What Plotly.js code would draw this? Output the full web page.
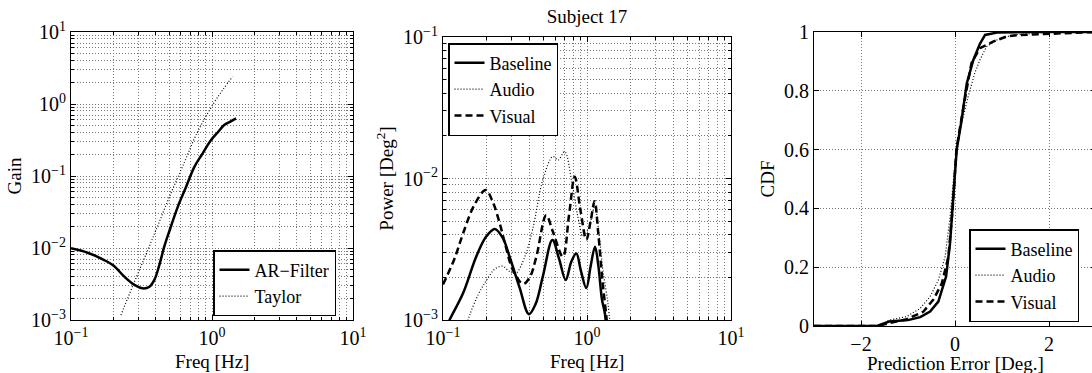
<!DOCTYPE html>
<html>
<head>
<meta charset="utf-8">
<script src="https://cdn.plot.ly/plotly-3.0.1.min.js"></script>
<style>
html,body{margin:0;padding:0;overflow:hidden;background:#fff;}
#chart{width:1100px;height:373px;}
</style>
</head>
<body>
<div id="chart"></div>
<script>
// ---- Panel 1: Gain vs frequency ----
const arFreq = [0.1, 0.131, 0.172, 0.2, 0.239, 0.28, 0.322, 0.36, 0.39, 0.42, 0.459, 0.5, 0.571, 0.65, 0.75, 0.85, 0.985, 1.1, 1.22, 1.35, 1.48];
const arGain = [0.0099, 0.0086, 0.0068, 0.0057, 0.0040, 0.0031, 0.00275, 0.0029, 0.0036, 0.0055, 0.0105, 0.0175, 0.037, 0.068, 0.134, 0.2, 0.316, 0.405, 0.51, 0.57, 0.63];
const taylorFreq = [0.226, 0.28, 0.35, 0.42, 0.51, 0.62, 0.79, 1.03, 1.2, 1.40];
const taylorGain = [0.00117, 0.0033, 0.0093, 0.0223, 0.057, 0.137, 0.41, 1.03, 1.6, 2.4];

// ---- Panel 2: Power spectra, Subject 17 ----
const baseFreq = [0.105, 0.111, 0.138, 0.17, 0.2, 0.229, 0.26, 0.29, 0.34, 0.395, 0.44, 0.494, 0.575, 0.64, 0.711, 0.78, 0.843, 0.91, 0.989, 1.06, 1.137, 1.2, 1.27, 1.33, 1.37];
const basePower = [0.00088, 0.001, 0.00155, 0.0028, 0.0039, 0.0044, 0.0038, 0.0028, 0.0017, 0.0011, 0.0013, 0.00204, 0.00367, 0.0027, 0.00192, 0.0026, 0.00295, 0.0022, 0.00168, 0.0024, 0.0033, 0.0024, 0.0014, 0.00112, 0.0008];
const audioFreq = [0.145, 0.153, 0.175, 0.2, 0.23, 0.26, 0.29, 0.32, 0.37, 0.42, 0.494, 0.58, 0.63, 0.70, 0.78, 0.86, 0.94, 1.03, 1.13, 1.22, 1.29, 1.40, 1.45];
const audioPower = [0.0009, 0.00108, 0.0015, 0.0019, 0.0023, 0.0024, 0.0022, 0.00214, 0.0028, 0.0044, 0.0098, 0.0143, 0.0135, 0.0155, 0.0098, 0.0055, 0.0039, 0.0045, 0.0063, 0.0038, 0.00225, 0.0013, 0.0009];
const visualFreq = [0.1, 0.12, 0.138, 0.165, 0.198, 0.222, 0.248, 0.275, 0.306, 0.36, 0.40, 0.445, 0.521, 0.58, 0.68, 0.75, 0.822, 0.9, 0.99, 1.06, 1.13, 1.2, 1.28, 1.36, 1.4];
const visualPower = [0.00178, 0.0027, 0.0041, 0.0065, 0.0083, 0.0068, 0.0048, 0.0032, 0.00225, 0.0018, 0.002, 0.0028, 0.0055, 0.0042, 0.0028, 0.0055, 0.0103, 0.006, 0.0037, 0.005, 0.0069, 0.004, 0.0019, 0.00108, 0.0008];

// ---- Panel 3: CDF of prediction error ----
const baseErr = [-3, -1.66, -1.4, -1.0, -0.74, -0.53, -0.355, -0.19, -0.106, -0.036, 0.036, 0.14, 0.25, 0.39, 0.53, 0.64, 0.89, 1.5, 3];
const baseCdf = [0, 0, 0.015, 0.02, 0.03, 0.049, 0.083, 0.168, 0.281, 0.44, 0.60, 0.70, 0.825, 0.905, 0.96, 0.99, 0.998, 1.0, 1.0];
const audioErr = [-3, -1.6, -1.4, -1.03, -0.74, -0.53, -0.355, -0.21, -0.106, 0, 0.106, 0.28, 0.42, 0.53, 0.67, 0.89, 1.23, 2.0, 3];
const audioCdf = [0, 0, 0.02, 0.032, 0.06, 0.1, 0.156, 0.236, 0.37, 0.553, 0.667, 0.78, 0.86, 0.905, 0.95, 0.973, 0.99, 1.0, 1.0];
const visualErr = [-3, -1.66, -1.03, -0.67, -0.46, -0.28, -0.14, -0.05, 0.03, 0.18, 0.35, 0.53, 0.81, 1.1, 1.38, 2.5, 3];
const visualCdf = [0, 0, 0.023, 0.049, 0.09, 0.145, 0.236, 0.4, 0.6, 0.746, 0.894, 0.945, 0.967, 0.985, 0.99, 0.997, 1.0];

// ---- tick labels ----
const logTickVals1 = [0.1, 1, 10];
const logTickText1 = ['10<sup>−1</sup>', '10<sup>0</sup>', '10<sup>1</sup>'];
const gainTickVals = [0.001, 0.01, 0.1, 1, 10];
const gainTickText = ['10<sup>−3</sup>', '10<sup>−2</sup>', '10<sup>−1</sup>', '10<sup>0</sup>', '10<sup>1</sup>'];
const powTickVals = [0.001, 0.01, 0.1];
const powTickText = ['10<sup>−3</sup>', '10<sup>−2</sup>', '10<sup>−1</sup>'];
const errTickVals = [-2, 0, 2];
const errTickText = ['−2', '0', '2'];
const cdfTickVals = [0, 0.2, 0.4, 0.6, 0.8, 1];
const cdfTickText = ['0', '0.2', '0.4', '0.6', '0.8', '1'];

const W = 1100, H = 373;
const FONT = "'Liberation Serif', 'Times New Roman', serif";
const TICK = 20, TIT = 19, LEG = 18;
function dx(a, b) { return [a / W, b / W]; }
function dy(t, b) { return [1 - b / H, 1 - t / H]; }
function minorLog(e0, e1) {
  const v = [];
  for (let e = e0; e < e1; e++) for (let k = 2; k <= 9; k++) v.push(k * Math.pow(10, e));
  return v;
}
const GRID = 'rgb(120,120,120)';
const GDASH = '1px,2px';
function ttl(text, standoff) {
  const t = {text: text, font: {family: FONT, size: TIT, color: '#000'}};
  if (standoff !== undefined) t.standoff = standoff;
  return t;
}

function baseAxis(domain, range, tv, tt, anchor, title) {
  return {
    domain: domain, range: range, anchor: anchor,
    tickmode: 'array', tickvals: tv, ticktext: tt,
    ticks: 'inside', ticklen: 5, tickcolor: '#000', tickwidth: 1,
    showline: true, linecolor: '#000', linewidth: 1, mirror: 'ticks',
    showgrid: true, gridcolor: GRID, griddash: GDASH, gridwidth: 1,
    zeroline: false, automargin: false,
    tickfont: {family: FONT, size: TICK, color: '#000'},
    title: title
  };
}
function logAxis(domain, range, tv, tt, minorVals, anchor, title) {
  const a = baseAxis(domain, range, tv, tt, anchor, title);
  a.type = 'log';
  a.minor = {tickmode: 'array', tickvals: minorVals, ticks: 'inside', ticklen: 3, tickcolor: '#000',
             showgrid: true, gridcolor: GRID, griddash: GDASH, gridwidth: 1};
  return a;
}
function linAxis(domain, range, tv, tt, anchor, title) {
  const a = baseAxis(domain, range, tv, tt, anchor, title);
  a.type = 'linear';
  return a;
}

const solid = {color: '#000', width: 2.5};
const dotted = {color: '#000', width: 1.2, dash: '1px,2px'};
const dashed = {color: '#000', width: 2.5, dash: '7px,4px'};

const traces = [
  {x: arFreq, y: arGain, name: 'AR−Filter', mode: 'lines', line: Object.assign({shape: 'spline'}, solid), xaxis: 'x', yaxis: 'y', legend: 'legend'},
  {x: taylorFreq, y: taylorGain, name: 'Taylor', mode: 'lines', line: Object.assign({shape: 'spline'}, dotted), xaxis: 'x', yaxis: 'y', legend: 'legend'},
  {x: baseFreq, y: basePower, name: 'Baseline', mode: 'lines', line: Object.assign({shape: 'spline'}, solid), xaxis: 'x2', yaxis: 'y2', legend: 'legend2'},
  {x: audioFreq, y: audioPower, name: 'Audio', mode: 'lines', line: Object.assign({shape: 'spline'}, dotted), xaxis: 'x2', yaxis: 'y2', legend: 'legend2'},
  {x: visualFreq, y: visualPower, name: 'Visual', mode: 'lines', line: Object.assign({shape: 'spline'}, dashed), xaxis: 'x2', yaxis: 'y2', legend: 'legend2'},
  {x: baseErr, y: baseCdf, name: 'Baseline', mode: 'lines', line: solid, xaxis: 'x3', yaxis: 'y3', legend: 'legend3'},
  {x: audioErr, y: audioCdf, name: 'Audio', mode: 'lines', line: dotted, xaxis: 'x3', yaxis: 'y3', legend: 'legend3'},
  {x: visualErr, y: visualCdf, name: 'Visual', mode: 'lines', line: dashed, xaxis: 'x3', yaxis: 'y3', legend: 'legend3'}
];

function legendBox(x, y, yanchor) {
  return {x: x / W, y: 1 - y / H, xanchor: 'left', yanchor: yanchor, xref: 'paper', yref: 'paper',
    bgcolor: '#fff', bordercolor: '#000', borderwidth: 1.5,
    font: {family: FONT, size: LEG, color: '#000'}, tracegroupgap: 0, itemwidth: 30,
    traceorder: 'normal'};
}
// x-axis titles placed as centred text under each panel
function xTitle(text, xdom, ypx) {
  return {text: text, xref: 'paper', yref: 'paper', x: (xdom[0] + xdom[1]) / 2, y: 1 - ypx / H,
          xanchor: 'center', yanchor: 'middle', showarrow: false,
          font: {family: FONT, size: TIT, color: '#000'}};
}

const xd1 = dx(71, 353), xd2 = dx(443, 731), xd3 = dx(814, 1096);
const layout = {
  width: W, height: H,
  margin: {l: 0, r: 0, t: 0, b: 0},
  paper_bgcolor: '#fff', plot_bgcolor: '#fff',
  font: {family: FONT, size: TIT, color: '#000'},
  title: {text: 'Subject 17', x: 587 / W, y: 1 - 16 / H, xanchor: 'center', yanchor: 'middle', xref: 'paper', yref: 'paper',
          font: {family: FONT, size: TIT, color: '#000'}},
  xaxis: logAxis(xd1, [-1, 1], logTickVals1, logTickText1, minorLog(-1, 1), 'y', ttl('')),
  yaxis: logAxis(dy(32, 320), [-3, 1], gainTickVals, gainTickText, minorLog(-3, 1), 'x', ttl('Gain', 4)),
  xaxis2: logAxis(xd2, [-1, 1], logTickVals1, logTickText1, minorLog(-1, 1), 'y2', ttl('')),
  yaxis2: logAxis(dy(37, 320), [-3, -1], powTickVals, powTickText, minorLog(-3, -1), 'x2', ttl('Power [Deg<sup>2</sup>]', 4)),
  xaxis3: linAxis(xd3, [-3, 3], errTickVals, errTickText, 'y3', ttl('')),
  yaxis3: linAxis(dy(32, 326), [0, 1], cdfTickVals, cdfTickText, 'x3', ttl('CDF', 4)),
  annotations: [
    xTitle('Freq [Hz]', xd1, 361),
    xTitle('Freq [Hz]', xd2, 361),
    xTitle('Prediction Error [Deg.]', xd3, 363)
  ],
  legend: legendBox(213, 316, 'bottom'),
  legend2: legendBox(448, 43, 'top'),
  legend3: legendBox(969, 322, 'bottom'),
  showlegend: true
};

Plotly.newPlot('chart', traces, layout, {displayModeBar: false, staticPlot: true});
</script>
</body>
</html>
